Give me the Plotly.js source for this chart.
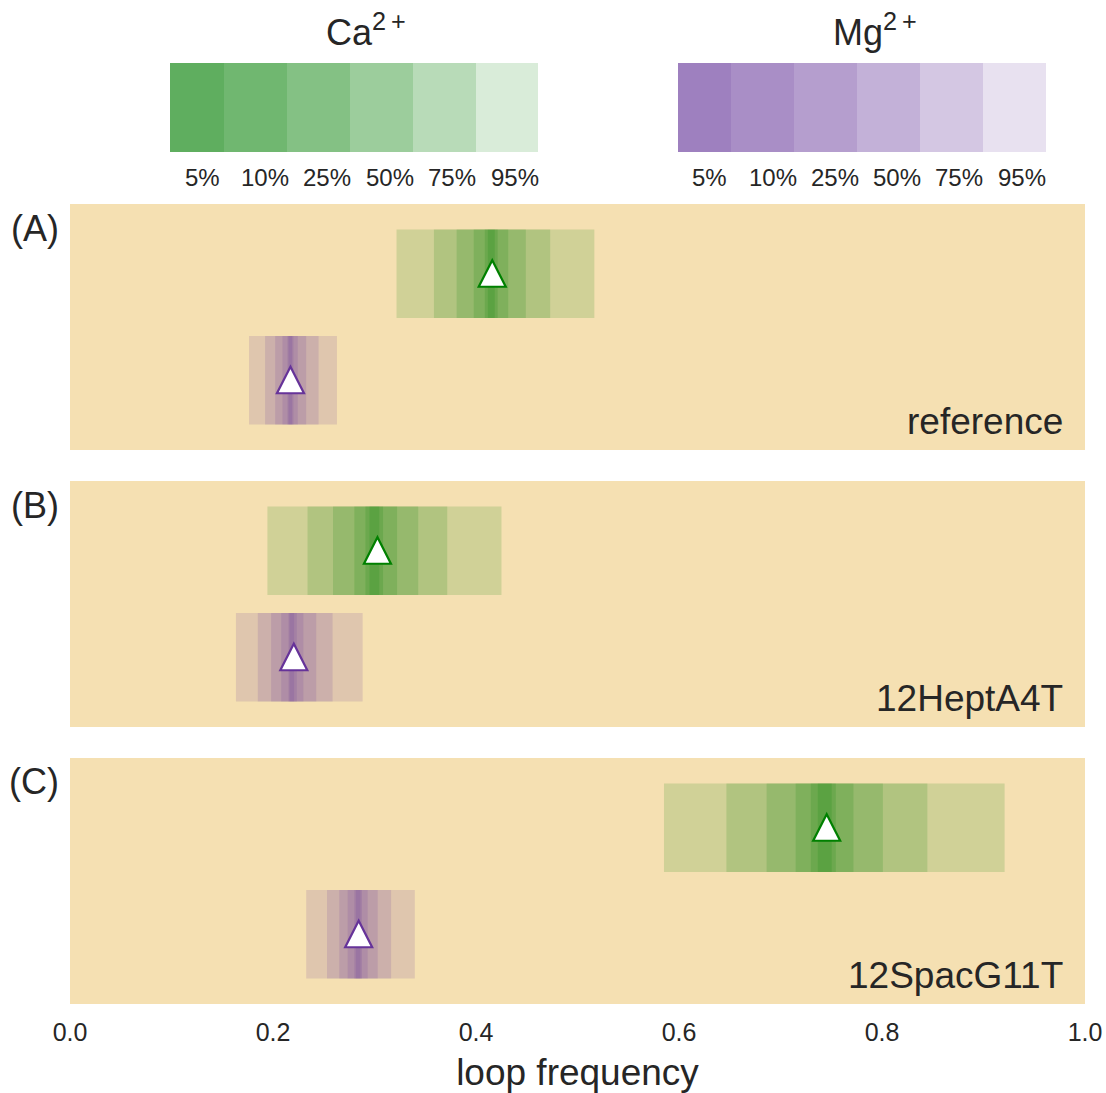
<!DOCTYPE html>
<html>
<head>
<meta charset="utf-8">
<script src="https://cdn.plot.ly/plotly-3.0.1.min.js"></script>
<style>html,body{margin:0;padding:0;background:#fff;}#chart{width:1106px;height:1093px;}</style>
</head>
<body>
<div id="chart"></div>
<script>
// ---------------- data ----------------
const levels = ['5%', '10%', '25%', '50%', '75%', '95%'];
const panelNames = ['reference', '12HeptA4T', '12SpacG11T'];
const panelTags = ['(A)', '(B)', '(C)'];
const ions = ['Ca', 'Mg'];

// credible-interval bounds, ordered 5%,10%,25%,50%,75%,95%
const caLoA = [0.4116, 0.4086, 0.3977, 0.3809, 0.3585, 0.3217];
const caHiA = [0.4185, 0.4214, 0.4318, 0.4491, 0.4731, 0.5166];
const mgLoA = [0.2154, 0.2142, 0.2093, 0.2021, 0.1922, 0.1764];
const mgHiA = [0.2189, 0.2202, 0.2245, 0.2327, 0.2449, 0.2630];

const caLoB = [0.2950, 0.2910, 0.2801, 0.2591, 0.2340, 0.1945];
const caHiB = [0.3048, 0.3085, 0.3223, 0.3431, 0.3717, 0.4251];
const mgLoB = [0.2164, 0.2152, 0.2080, 0.1981, 0.1850, 0.1635];
const mgHiB = [0.2208, 0.2235, 0.2300, 0.2426, 0.2587, 0.2883];

const caLoC = [0.7367, 0.7298, 0.7149, 0.6863, 0.6467, 0.5852];
const caHiC = [0.7505, 0.7545, 0.7719, 0.8009, 0.8447, 0.9208];
const mgLoC = [0.2816, 0.2801, 0.2735, 0.2653, 0.2532, 0.2327];
const mgHiC = [0.2861, 0.2877, 0.2933, 0.3032, 0.3164, 0.3397];

// point estimates (triangles)
const caPoint = [0.416, 0.3029, 0.7455];
const mgPoint = [0.2172, 0.2205, 0.2844];

const xTicks = [0, 0.2, 0.4, 0.6, 0.8, 1.0];

// ---------------- styling ----------------
const W = 1106, H = 1093;
const L = 70, R = 21, T = 204, B = 89;
const plotW = W - L - R, plotH = H - T - B;
const px2x = p => (p - L) / plotW;
const px2y = p => (H - B - p) / plotH;

const textColor = '#262626';
const fontFam = '"Liberation Sans", Arial, sans-serif';
const bgPanel = '#f5e0b2';
const caFill = 'rgba(0,128,0,0.15)';
const mgFill = 'rgba(102,51,153,0.15)';
const caLine = '#008000';
const mgLine = '#663399';

const bounds = [
  [caLoA, caHiA, mgLoA, mgHiA],
  [caLoB, caHiB, mgLoB, mgHiB],
  [caLoC, caHiC, mgLoC, mgHiC]
];
const yRefs = ['y', 'y2', 'y3'];
const caRow = 1, mgRow = 0;

const traces = [];
const shapes = [];
const annotations = [];

bounds.forEach((b, p) => {
  const [cLo, cHi, mLo, mHi] = b;
  traces.push({
    type: 'bar', orientation: 'h', name: panelNames[p] + ' Ca',
    base: cLo, x: cHi.map((h, i) => h - cLo[i]), y: cLo.map(() => caRow),
    width: 0.83, marker: {color: caFill, line: {width: 0}},
    xaxis: 'x', yaxis: yRefs[p], hoverinfo: 'skip', showlegend: false
  });
  traces.push({
    type: 'bar', orientation: 'h', name: panelNames[p] + ' Mg',
    base: mLo, x: mHi.map((h, i) => h - mLo[i]), y: mLo.map(() => mgRow),
    width: 0.83, marker: {color: mgFill, line: {width: 0}},
    xaxis: 'x', yaxis: yRefs[p], hoverinfo: 'skip', showlegend: false
  });
  // triangle markers (matplotlib-like equal width/height), anchored to data values
  [[caPoint[p], caRow, caLine], [mgPoint[p], mgRow, mgLine]].forEach(([xv, yv, col]) => {
    shapes.push({
      type: 'path', xref: 'x', yref: yRefs[p],
      xsizemode: 'pixel', ysizemode: 'pixel', xanchor: xv, yanchor: yv,
      path: 'M0,13.5 L-13.5,-13 L13.5,-13 Z',
      fillcolor: '#ffffff', line: {color: col, width: 2.2}, layer: 'above'
    });
  });
});

// panel tags and names
const panelTops = [204, 481, 758];
panelTops.forEach((t, p) => {
  annotations.push({
    xref: 'paper', yref: 'paper', x: px2x(61), y: px2y(t + 24),
    xanchor: 'right', yanchor: 'middle', showarrow: false,
    text: panelTags[p], font: {size: 36, color: textColor, family: fontFam}
  });
  annotations.push({
    xref: 'paper', yref: 'paper', x: px2x(1065), y: px2y(t + 217),
    xanchor: 'right', yanchor: 'middle', showarrow: false,
    text: panelNames[p], font: {size: 37, color: textColor, family: fontFam}
  });
});

// legends (colour keys) built from the same stacked translucent fills
const keys = [
  {title: 'Ca<sup>2\u2009+</sup>', fill: caFill, edges: [170, 224, 287, 350, 413, 476, 538],
   labelX: [202, 265, 327, 390, 452, 515], titleX: 366},
  {title: 'Mg<sup>2\u2009+</sup>', fill: mgFill, edges: [678, 731, 794, 857, 920, 983, 1046],
   labelX: [709, 773, 835, 897, 959, 1022], titleX: 875}
];
keys.forEach(k => {
  levels.forEach((lab, j) => {
    shapes.push({
      type: 'rect', xref: 'paper', yref: 'paper',
      x0: px2x(k.edges[0]), x1: px2x(k.edges[j + 1]),
      y0: px2y(152), y1: px2y(63),
      fillcolor: k.fill, line: {width: 0}, layer: 'above'
    });
    annotations.push({
      xref: 'paper', yref: 'paper', x: px2x(k.labelX[j]), y: px2y(177),
      xanchor: 'center', yanchor: 'middle', showarrow: false,
      text: lab, font: {size: 24, color: textColor, family: fontFam}
    });
  });
  annotations.push({
    xref: 'paper', yref: 'paper', x: px2x(k.titleX), y: px2y(30),
    xanchor: 'center', yanchor: 'middle', showarrow: false,
    text: k.title, font: {size: 36, color: textColor, family: fontFam}
  });
});

const yBase = {
  range: [-0.655, 1.655], showticklabels: false, ticks: '', showgrid: false,
  zeroline: false, showline: false, fixedrange: true
};

const layout = {
  width: W, height: H,
  margin: {l: L, r: R, t: T, b: B, pad: 0},
  paper_bgcolor: '#ffffff', plot_bgcolor: bgPanel,
  barmode: 'overlay', showlegend: false,
  font: {family: fontFam, color: textColor},
  xaxis: {
    range: [0, 1], anchor: 'y3', tickvals: xTicks, tickformat: '.1f',
    ticks: '', showgrid: false, zeroline: false, showline: false,
    tickfont: {size: 25, color: textColor, family: fontFam},
    ticklabelstandoff: 11,
    title: {text: 'loop frequency', font: {size: 37, color: textColor, family: fontFam}, standoff: 18},
    automargin: false
  },
  yaxis: Object.assign({}, yBase, {domain: [px2y(450), px2y(204)]}),
  yaxis2: Object.assign({}, yBase, {domain: [px2y(727), px2y(481)]}),
  yaxis3: Object.assign({}, yBase, {domain: [px2y(1004), px2y(758)]}),
  shapes: shapes,
  annotations: annotations
};

Plotly.newPlot('chart', traces, layout, {displayModeBar: false, staticPlot: true});
</script>
</body>
</html>
